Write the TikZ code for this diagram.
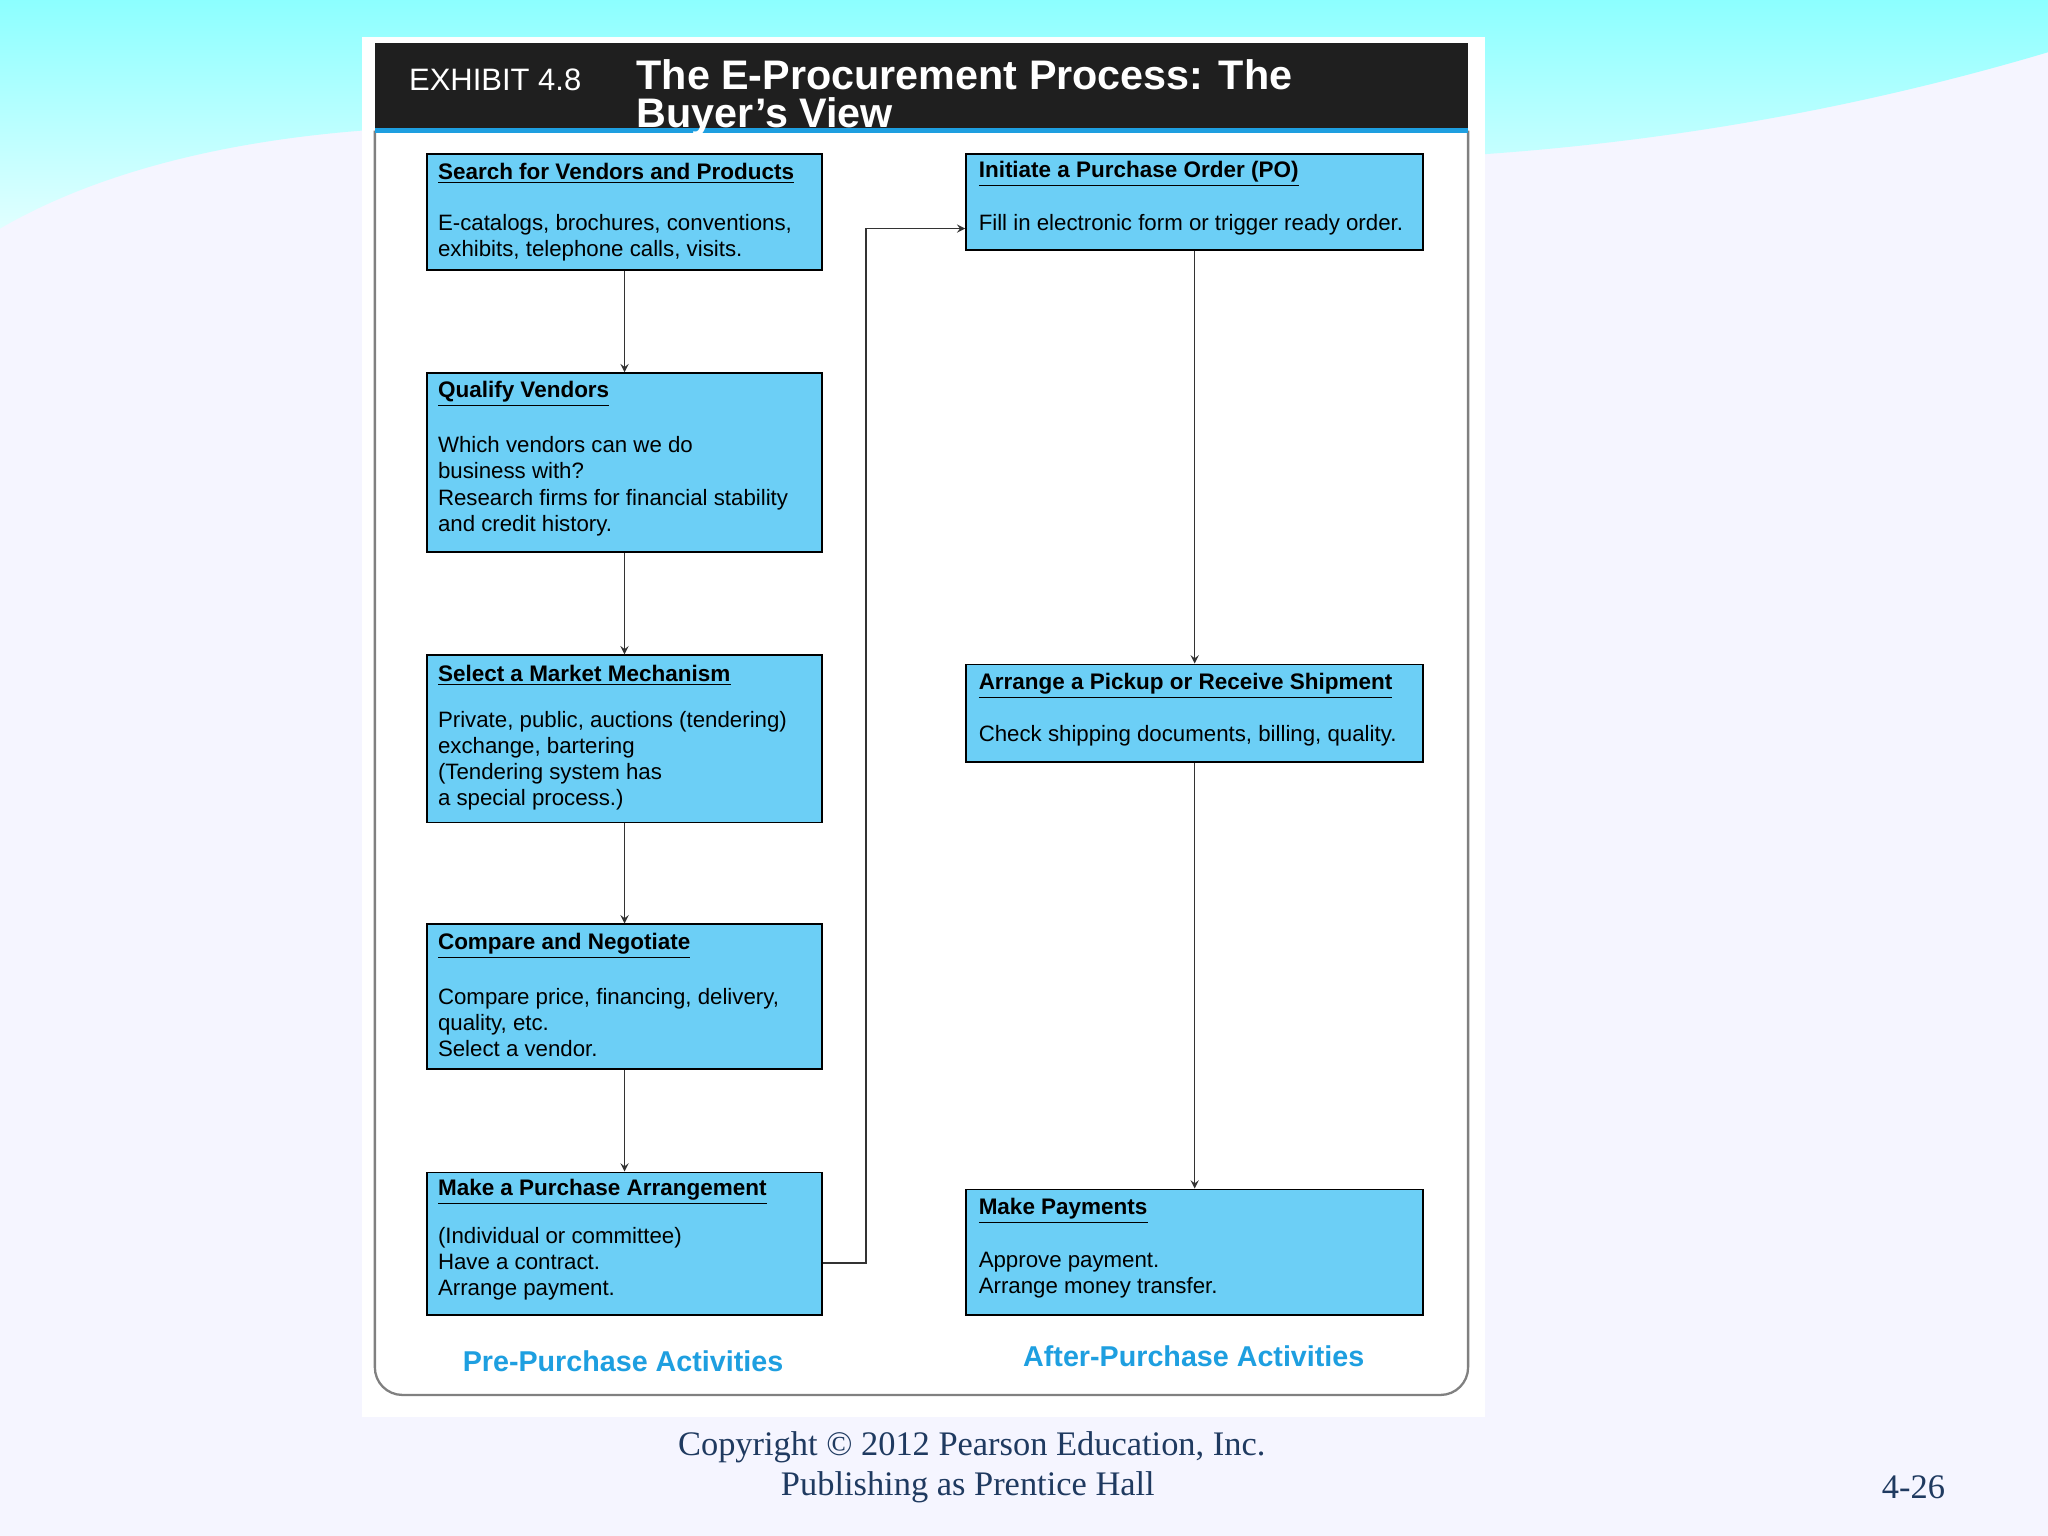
\documentclass[tikz,border=0pt]{standalone}
\usepackage{fontspec}
\setmainfont{Liberation Sans}
\newfontfamily\footfont{Liberation Serif}
\usetikzlibrary{calc}
\definecolor{boxblue}{HTML}{6CCFF6}
\definecolor{lblue}{HTML}{1E9FE0}
\definecolor{navy}{HTML}{1F3A60}
\tikzset{
 box/.style={draw=black,line width=0.8pt,fill=boxblue,anchor=north west,inner sep=0pt},
 ttl/.style={anchor=west,inner sep=0pt,font=\fontsize{9.8}{11.4}\selectfont\bfseries},
 bdy/.style={anchor=north west,inner sep=0pt,align=left,font=\fontsize{9.7}{11.4}\selectfont},
 arr/.style={draw=black!80,line width=0.6pt,-stealth},
 lab/.style={text=lblue,font=\fontsize{12.5}{14}\selectfont\bfseries},
 foot/.style={text=navy,font=\fontsize{15}{17}\footfont\selectfont}
}
\newcommand{\ul}[1]{\underline{#1}}
\begin{document}
\begin{tikzpicture}[x=0.02cm,y=-0.02cm]
\useasboundingbox (0,0) rectangle (1568,1176);
\fill[white!96!blue] (0,0) rectangle (1568,1176);
\shade[top color=cyan!45,bottom color=cyan!12] (0,0) -- (1568,0) -- (1568,40) .. controls (1400,90) and (1250,110) .. (1137,118) -- (277,100) .. controls (150,110) and (60,140) .. (0,175) -- cycle;
\fill[white] (277,28) rectangle (1137,1085);
\draw[gray,line width=1pt,rounded corners=12pt] (287,100) -- (287,1068) -- (1124,1068) -- (1124,100);
\fill[black!88] (287,33) rectangle (1124,99);
\fill[lblue] (287,98) rectangle (1124,102);
\node[anchor=west,text=white,font=\fontsize{13.5}{16}\selectfont] (ex) at (307,61) {EXHIBIT 4.8};
\node[anchor=north west,text=white,align=left,inner sep=0pt,font=\fontsize{18}{16.5}\selectfont\bfseries] (tt) at (487,45) {The E-Procurement Process: The\\Buyer’s View};

\node[box,minimum width=6.06cm,minimum height=1.78cm] (b1) at (326,117) {};
\node[ttl] at (335,133) {\ul{Search for Vendors and Products}};
\node[bdy] at (335,164) {E-catalogs, brochures, conventions,\\exhibits, telephone calls, visits.};
\node[box,minimum width=6.06cm,minimum height=2.74cm] (b2) at (326,285) {};
\node[ttl] at (335,302) {\ul{Qualify Vendors}};
\node[bdy] at (335,334) {Which vendors can we do\\business with?\\Research firms for financial stability\\and credit history.};
\node[box,minimum width=6.06cm,minimum height=2.56cm] (b3) at (326,501) {};
\node[ttl] at (335,517) {\ul{Select a Market Mechanism}};
\node[bdy] at (335,544) {Private, public, auctions (tendering)\\exchange, bartering\\(Tendering system has\\a special process.)};
\node[box,minimum width=6.06cm,minimum height=2.22cm] (b4) at (326,707) {};
\node[ttl] at (335,724) {\ul{Compare and Negotiate}};
\node[bdy] at (335,756) {Compare price, financing, delivery,\\quality, etc.\\Select a vendor.};
\node[box,minimum width=6.06cm,minimum height=2.18cm] (b5) at (326,897) {};
\node[ttl] at (335,913) {\ul{Make a Purchase Arrangement}};
\node[bdy] at (335,939) {(Individual or committee)\\Have a contract.\\Arrange payment.};

\node[box,minimum width=7.0cm,minimum height=1.48cm] (r1) at (739,117) {};
\node[ttl] at (749,133) {\ul{Initiate a Purchase Order (PO)}};
\node[bdy] at (749,164) {Fill in electronic form or trigger ready order.};
\node[box,minimum width=7.0cm,minimum height=1.5cm] (r2) at (739,508) {};
\node[ttl] at (749,525) {\ul{Arrange a Pickup or Receive Shipment}};
\node[bdy] at (749,555) {Check shipping documents, billing, quality.};
\node[box,minimum width=7.0cm,minimum height=1.92cm] (r3) at (739,910) {};
\node[ttl] at (749,927) {\ul{Make Payments}};
\node[bdy] at (749,958) {Approve payment.\\Arrange money transfer.};

\draw[arr] (b1.south) -- (b2.north);
\draw[arr] (b2.south) -- (b3.north);
\draw[arr] (b3.south) -- (b4.north);
\draw[arr] (b4.south) -- (b5.north);
\coordinate (c1) at (663,967);
\coordinate (c2) at (663,175);
\draw[arr] (b5.east |- c1) -- (c1) -- (c2) -- (r1.west |- c2);
\draw[arr] (r1.south) -- (r2.north);
\draw[arr] (r2.south) -- (r3.north);

\node[lab] (pre) at (477,1042) {Pre-Purchase Activities};
\node[lab] (aft) at (914,1038) {After-Purchase Activities};
\node[foot] (f1) at (744,1108) {Copyright © 2012 Pearson Education, Inc.};
\node[foot] (f2) at (741,1139) {Publishing as Prentice Hall};
\node[foot] (pg) at (1465,1139) {4-26};
\end{tikzpicture}
\end{document}
